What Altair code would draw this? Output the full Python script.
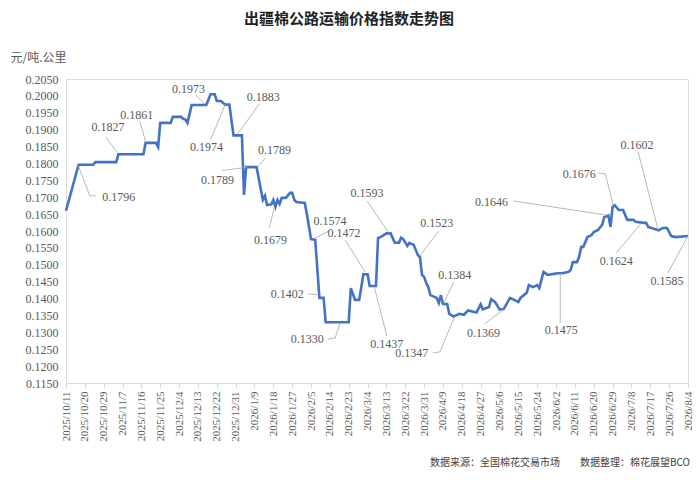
import altair as alt
import pandas as pd

START = "2025-10-11"

DATES = [
    "2025-10-11", "2025-10-17", "2025-10-24", "2025-10-25", "2025-11-04", "2025-11-05",
    "2025-11-17", "2025-11-18", "2025-11-23", "2025-11-24", "2025-11-25", "2025-11-30",
    "2025-12-01", "2025-12-05", "2025-12-06", "2025-12-07", "2025-12-08", "2025-12-10",
    "2025-12-17", "2025-12-19", "2025-12-21", "2025-12-22", "2025-12-24", "2025-12-26",
    "2025-12-28", "2025-12-30", "2026-01-03", "2026-01-04", "2026-01-05", "2026-01-10",
    "2026-01-13", "2026-01-14", "2026-01-15", "2026-01-17", "2026-01-18", "2026-01-19",
    "2026-01-20", "2026-01-21", "2026-01-22", "2026-01-24", "2026-01-26", "2026-01-27",
    "2026-01-28", "2026-01-29", "2026-02-02", "2026-02-03", "2026-02-05", "2026-02-07",
    "2026-02-09", "2026-02-11", "2026-02-12", "2026-02-23", "2026-02-24", "2026-02-26",
    "2026-02-28", "2026-03-02", "2026-03-04", "2026-03-05", "2026-03-08", "2026-03-09",
    "2026-03-11", "2026-03-13", "2026-03-15", "2026-03-17", "2026-03-19", "2026-03-20",
    "2026-03-21", "2026-03-23", "2026-03-24", "2026-03-26", "2026-03-28", "2026-03-29",
    "2026-03-30", "2026-03-31", "2026-04-01", "2026-04-02", "2026-04-03", "2026-04-06",
    "2026-04-07", "2026-04-08", "2026-04-09", "2026-04-11", "2026-04-12", "2026-04-14",
    "2026-04-17", "2026-04-19", "2026-04-21", "2026-04-25", "2026-04-27", "2026-04-28",
    "2026-05-01", "2026-05-02", "2026-05-04", "2026-05-06", "2026-05-08", "2026-05-09",
    "2026-05-11", "2026-05-13", "2026-05-15", "2026-05-16", "2026-05-19", "2026-05-20",
    "2026-05-22", "2026-05-24", "2026-05-25", "2026-05-27", "2026-05-29", "2026-06-01",
    "2026-06-03", "2026-06-05", "2026-06-08", "2026-06-09", "2026-06-10", "2026-06-12",
    "2026-06-13", "2026-06-14", "2026-06-15", "2026-06-17", "2026-06-19", "2026-06-20",
    "2026-06-22", "2026-06-24", "2026-06-25", "2026-06-27", "2026-06-28", "2026-06-29",
    "2026-06-30", "2026-07-02", "2026-07-04", "2026-07-06", "2026-07-09", "2026-07-10",
    "2026-07-14", "2026-07-15", "2026-07-16", "2026-07-19", "2026-07-21", "2026-07-23",
    "2026-07-25", "2026-07-27", "2026-07-29", "2026-08-04",
]

VALUES = [
    0.1660, 0.1796, 0.1796, 0.1804, 0.1804, 0.1827,
    0.1827, 0.1861, 0.1861, 0.1849, 0.1920, 0.1920,
    0.1938, 0.1938, 0.1932, 0.1930, 0.1920, 0.1973,
    0.1973, 0.2005, 0.2005, 0.1985, 0.1985, 0.1974,
    0.1974, 0.1883, 0.1883, 0.1707, 0.1789, 0.1789,
    0.1692, 0.1704, 0.1677, 0.1679, 0.1692, 0.1671,
    0.1692, 0.1680, 0.1698, 0.1698, 0.1713, 0.1713,
    0.1692, 0.1686, 0.1683, 0.1650, 0.1576, 0.1574,
    0.1402, 0.1402, 0.1330, 0.1330, 0.1431, 0.1396,
    0.1396, 0.1472, 0.1472, 0.1437, 0.1437, 0.1579,
    0.1585, 0.1593, 0.1593, 0.1565, 0.1565, 0.1580,
    0.1576, 0.1556, 0.1565, 0.1559, 0.1529, 0.1523,
    0.1470, 0.1464, 0.1446, 0.1434, 0.1410, 0.1402,
    0.1387, 0.1410, 0.1384, 0.1384, 0.1355, 0.1347,
    0.1355, 0.1352, 0.1365, 0.1359, 0.1383, 0.1368,
    0.1375, 0.1398, 0.1389, 0.1368, 0.1369, 0.1380,
    0.1402, 0.1396, 0.1390, 0.1402, 0.1417, 0.1440,
    0.1434, 0.1440, 0.1431, 0.1479, 0.1470, 0.1473,
    0.1475, 0.1475, 0.1479, 0.1485, 0.1508, 0.1508,
    0.1523, 0.1553, 0.1553, 0.1582, 0.1588, 0.1597,
    0.1603, 0.1618, 0.1641, 0.1646, 0.1612, 0.1671,
    0.1676, 0.1662, 0.1662, 0.1633, 0.1633, 0.1627,
    0.1624, 0.1624, 0.1612, 0.1606, 0.1602, 0.1609,
    0.1609, 0.1585, 0.1582, 0.1585,
]

TICK_LABELS = [
    "2025/10/11", "2025/10/20", "2025/10/29", "2025/11/7", "2025/11/16", "2025/11/25",
    "2025/12/4", "2025/12/13", "2025/12/22", "2025/12/31", "2026/1/9", "2026/1/18",
    "2026/1/27", "2026/2/5", "2026/2/14", "2026/2/23", "2026/3/4", "2026/3/13",
    "2026/3/22", "2026/3/31", "2026/4/9", "2026/4/18", "2026/4/27", "2026/5/6",
    "2026/5/15", "2026/5/24", "2026/6/2", "2026/6/11", "2026/6/20", "2026/6/29",
    "2026/7/8", "2026/7/17", "2026/7/26", "2026/8/4",
]
TICK_STEP_DAYS = 9

# Callout labels: text, label centre (day offset, value)
ANN_TEXT = ["0.1796", "0.1827", "0.1861", "0.1973", "0.1974", "0.1883", "0.1789", "0.1789",
            "0.1679", "0.1574", "0.1472", "0.1402", "0.1330", "0.1437", "0.1593", "0.1523",
            "0.1384", "0.1347", "0.1369", "0.1475", "0.1646", "0.1676", "0.1624", "0.1602",
            "0.1585"]
ANN_DAY = [25.2, 20.0, 33.8, 58.5, 67.1, 94.2, 99.5, 72.3,
           97.6, 126.1, 132.8, 105.6, 115.2, 153.2, 143.7, 177.0,
           185.6, 165.1, 199.4, 236.5, 203.2, 245.1, 262.7, 272.7,
           287.0]
ANN_VAL = [0.1701, 0.1908, 0.1943, 0.2020, 0.1849, 0.1997, 0.1840, 0.1751,
           0.1573, 0.1630, 0.1594, 0.1414, 0.1280, 0.1266, 0.1712, 0.1624,
           0.1470, 0.1239, 0.1298, 0.1307, 0.1686, 0.1769, 0.1511, 0.1855,
           0.1452]
# Leader lines (day offset, value) points for each callout
LEADERS = [
    [(5.7, 0.1795), (11.4, 0.1704), (14.3, 0.1704)],
    [(24.7, 0.1831), (19.0, 0.1878)],
    [(38.1, 0.1863), (35.2, 0.1926)],
    [(66.2, 0.1976), (61.9, 0.2003)],
    [(76.1, 0.1976), (69.0, 0.1869)],
    [(81.9, 0.1887), (92.3, 0.1976)],
    [(91.4, 0.1789), (95.2, 0.1816)],
    [(86.6, 0.1789), (74.5, 0.1779)],
    [(99.5, 0.1671), (97.1, 0.1609)],
    [(119.0, 0.1579), (125.6, 0.1600)],
    [(142.8, 0.1479), (133.3, 0.1573)],
    [(115.6, 0.1414), (119.9, 0.1411)],
    [(125.2, 0.1280), (128.5, 0.1283), (130.9, 0.1328)],
    [(147.1, 0.1437), (153.2, 0.1289)],
    [(143.7, 0.1689), (154.2, 0.1594)],
    [(178.0, 0.1600), (168.9, 0.1526)],
    [(185.1, 0.1449), (180.4, 0.1387)],
    [(175.1, 0.1239), (178.5, 0.1242), (185.6, 0.1347)],
    [(199.9, 0.1325), (208.9, 0.1367)],
    [(236.0, 0.1328), (236.0, 0.1476)],
    [(213.7, 0.1689), (258.0, 0.1647)],
    [(254.1, 0.1772), (257.5, 0.1769), (261.3, 0.1677)],
    [(262.7, 0.1535), (274.6, 0.1622)],
    [(273.2, 0.1834), (282.7, 0.1604)],
    [(287.4, 0.1476), (297.0, 0.1585)],
]

TITLE = "出疆棉公路运输价格指数走势图"
Y_TITLE = "元/吨.公里"
CAPTION = "数据来源：全国棉花交易市场\u3000\u3000数据整理：棉花展望BCO"

start = pd.Timestamp(START)
series = pd.DataFrame({"date": pd.to_datetime(DATES), "value": VALUES})
series["day"] = (series["date"] - start).dt.days
series = series[["day", "value"]]

ann = pd.DataFrame({"text": ANN_TEXT, "day": ANN_DAY, "value": ANN_VAL})
leader_rows = []
for i, pts in enumerate(LEADERS):
    for j, (d, v) in enumerate(pts):
        leader_rows.append({"id": i, "ord": j, "day": d, "value": v})
leaders = pd.DataFrame(leader_rows)

n_days = TICK_STEP_DAYS * (len(TICK_LABELS) - 1)
tick_vals = [i * TICK_STEP_DAYS for i in range(len(TICK_LABELS))]
label_expr = "[" + ",".join("'" + s + "'" for s in TICK_LABELS) + "][round(datum.value/%d)]" % TICK_STEP_DAYS

y_ticks = [round(0.115 + 0.005 * i, 4) for i in range(19)]

NUM_FONT = "Liberation Serif"
CJK_FONT = "Noto Sans CJK SC"
GREY = "#595959"

x_enc = alt.X("day:Q", scale=alt.Scale(domain=[0, n_days], nice=False, zero=False),
              axis=alt.Axis(values=tick_vals, labelExpr=label_expr, labelAngle=-90,
                            labelFont=NUM_FONT, labelFontSize=11, labelColor=GREY,
                            domainColor="#D9D9D9", tickColor="#D9D9D9", tickSize=5,
                            labelPadding=3, grid=False, title=None, labelOverlap=False,
                            labelBound=False))
y_enc = alt.Y("value:Q", scale=alt.Scale(domain=[0.115, 0.205], nice=False, zero=False),
              axis=alt.Axis(values=y_ticks, format=".4f", labelFont=NUM_FONT, labelFontSize=12,
                            labelColor=GREY, domain=False, ticks=False, grid=False,
                            labelPadding=8, title=Y_TITLE, titleAngle=0, titleX=-56, titleY=-22,
                            titleAlign="left", titleBaseline="middle", titleFont=CJK_FONT,
                            titleFontSize=12, titleFontWeight="normal", titleColor=GREY,
                            labelOverlap=False, labelBound=False))

base = alt.Chart(series)

line = base.mark_line(color="#4472C4", strokeWidth=2.6, strokeJoin="miter").encode(
    x=x_enc, y=y_enc)

lead = alt.Chart(leaders).mark_line(color="#A6A6A6", strokeWidth=0.8).encode(
    x=x_enc, y=y_enc, detail="id:N", order="ord:Q")

labels = alt.Chart(ann).mark_text(font=NUM_FONT, fontSize=12, color=GREY, align="center",
                                  baseline="middle").encode(
    x=x_enc, y=y_enc, text="text:N")

caption = alt.Chart(pd.DataFrame({"t": [CAPTION]})).mark_text(
    font=CJK_FONT, fontSize=10, color="#404040", align="right", baseline="middle").encode(
    x=alt.value(624), y=alt.value(384), text="t:N")

chart = alt.layer(line, lead, labels, caption).properties(
    width=622, height=304,
    autosize=alt.AutoSizeParams(type="none"),
    padding={"left": 58, "top": 71, "right": 4, "bottom": 90},
    title=alt.TitleParams(TITLE, font=CJK_FONT, fontSize=15, fontWeight="bold", color="#222222",
                          anchor="middle", frame="group", offset=24, dx=-28),
).configure_view(stroke=None).configure(background="white")

chart.save("out.html", embed_options={"renderer": "svg", "actions": False})
